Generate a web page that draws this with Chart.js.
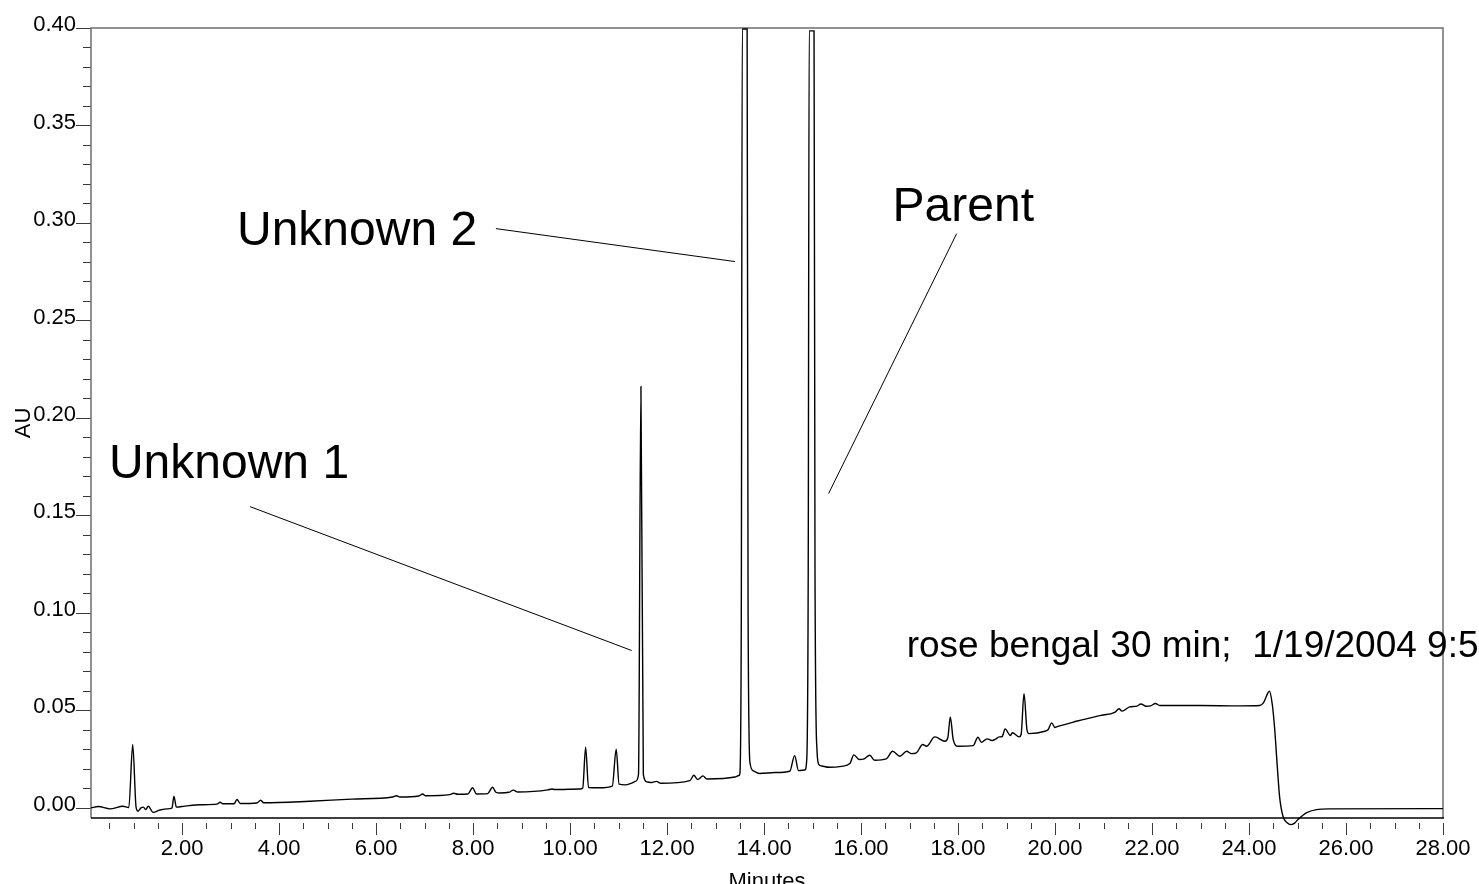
<!DOCTYPE html>
<html>
<head>
<meta charset="utf-8">
<title>rose bengal 30 min</title>
<script src="https://cdn.jsdelivr.net/npm/chart.js@4/dist/chart.umd.min.js"></script>
<style>
  html, body { margin: 0; padding: 0; background: #fff; overflow: hidden; }
  canvas { display: block; }
</style>
</head>
<body>
<canvas id="chrom" width="1479" height="884"></canvas>
<script>
// Retention time (minutes) of each sampled point of the trace
const timeMin = [
  0.12, 0.27, 0.51, 0.78, 0.90, 0.98, 1.05, 1.09, 1.15, 1.20, 1.25, 1.30, 1.40, 1.54, 1.75, 1.79, 1.83, 1.88,
  2.06, 2.37, 2.72, 2.78, 2.84, 3.07, 3.13, 3.20, 3.54, 3.62, 3.68, 4.63, 5.50,
  6.34, 6.42, 6.49, 6.88, 6.96, 7.02, 7.52, 7.60, 7.68, 7.89, 7.99, 8.07, 8.30, 8.40, 8.47, 8.55, 8.74, 8.83, 8.92,
  9.54, 9.62, 9.68, 10.20, 10.26, 10.32, 10.38, 10.61, 10.87, 10.95, 11.01, 11.13, 11.27, 11.35, 11.41, 11.46, 11.51,
  11.59, 11.68, 11.78, 11.87, 12.47, 12.55, 12.63, 12.74, 12.82, 13.40, 13.48,
  13.50, 13.53, 13.55, 13.65, 13.67, 13.71, 13.78, 13.91,
  14.22, 14.53, 14.63, 14.71, 14.84,
  14.88, 14.91, 14.93, 15.03, 15.05, 15.09, 15.13, 15.19,
  15.35, 15.60, 15.77, 15.85, 15.96, 16.05, 16.18, 16.28, 16.52, 16.65, 16.80, 16.94, 17.04, 17.14, 17.27, 17.35,
  17.52, 17.73, 17.79, 17.84, 17.90, 18.00, 18.31, 18.41, 18.48, 18.60, 18.70, 18.76, 18.85, 18.91, 18.97, 19.08,
  19.12, 19.26, 19.30, 19.36, 19.42, 19.46, 19.79, 19.86, 19.93, 20.00, 20.03, 20.44, 20.92, 21.23, 21.32, 21.38,
  21.54, 21.69, 21.77, 21.88, 21.97, 22.07, 22.16, 22.98, 23.81, 24.22, 24.30, 24.42, 24.48, 24.53, 24.58, 24.63,
  24.70, 24.78, 24.87, 24.94, 25.01, 25.18, 25.39, 25.66, 28.00
];

// Detector response (AU) at each retention time above
const absorbanceAU = [
  0.0000, 0.0007, -0.0005, 0.0008, 0.0002, 0.0325, 0.0002, -0.0017, 0.0000, 0.0004, -0.0009, 0.0009, -0.0023, -0.0011, -0.0004, -0.0001, 0.0060, 0.0004,
  0.0009, 0.0016, 0.0019, 0.0029, 0.0021, 0.0021, 0.0043, 0.0022, 0.0025, 0.0039, 0.0026, 0.0034, 0.0045,
  0.0056, 0.0062, 0.0056, 0.0061, 0.0071, 0.0062, 0.0068, 0.0075, 0.0070, 0.0071, 0.0103, 0.0071, 0.0073, 0.0106, 0.0080, 0.0076, 0.0080, 0.0091, 0.0081,
  0.0092, 0.0097, 0.0094, 0.0097, 0.0102, 0.0311, 0.0104, 0.0103, 0.0112, 0.0301, 0.0122, 0.0118, 0.0127, 0.0136, 0.0171, 0.2161, 0.0171,
  0.0133, 0.0130, 0.0136, 0.0126, 0.0140, 0.0167, 0.0145, 0.0164, 0.0148, 0.0158, 0.0166,
  0.0175, 0.1000, 0.3995, 0.3995, 0.1000, 0.0230, 0.0190, 0.0176,
  0.0181, 0.0188, 0.0268, 0.0191, 0.0194,
  0.0250, 0.1200, 0.3985, 0.3985, 0.1200, 0.0300, 0.0222, 0.0215,
  0.0208, 0.0213, 0.0227, 0.0272, 0.0248, 0.0250, 0.0270, 0.0244, 0.0251, 0.0290, 0.0265, 0.0290, 0.0278, 0.0282, 0.0325, 0.0316,
  0.0364, 0.0342, 0.0361, 0.0466, 0.0350, 0.0316, 0.0319, 0.0362, 0.0336, 0.0354, 0.0345, 0.0350, 0.0364, 0.0366, 0.0405, 0.0371,
  0.0385, 0.0364, 0.0376, 0.0586, 0.0402, 0.0381, 0.0393, 0.0402, 0.0436, 0.0412, 0.0415, 0.0444, 0.0473, 0.0490, 0.0508, 0.0496,
  0.0518, 0.0522, 0.0533, 0.0521, 0.0523, 0.0535, 0.0525, 0.0525, 0.0523, 0.0525, 0.0540, 0.0598, 0.0530, 0.0402, 0.0222, 0.0058,
  -0.0043, -0.0075, -0.0086, -0.0078, -0.0060, -0.0026, -0.0009, -0.0005, -0.0004
];

// Labelled axis values
const xTickValues = [2, 4, 6, 8, 10, 12, 14, 16, 18, 20, 22, 24, 26, 28];
const yTickValues = [0.00, 0.05, 0.10, 0.15, 0.20, 0.25, 0.30, 0.35, 0.40];

// Peak call-outs and the run stamp
const calloutTexts = ['Unknown 2', 'Unknown 1', 'Parent'];
const runStamp = 'rose bengal 30 min;  1/19/2004 9:51';

const FONT = "'Liberation Sans', Arial, Helvetica, sans-serif";

// Text anchors and leader lines, in axis units (minutes, AU)
const calloutLayout = [
  { x: 3.13, y: 0.2889, size: 48, from: [8.47, 0.2971], to: [13.40, 0.2802] },
  { x: 0.49, y: 0.1694, size: 48, from: [3.40, 0.1545], to: [11.27, 0.0807] },
  { x: 16.65, y: 0.3012, size: 48, from: [17.97, 0.2945], to: [15.33, 0.1612] }
];
const stampLayout = { x: 16.94, y: 0.0776, size: 37 };

// Frame box plus minor/major tick marks on both axes
const frameTicks = {
  id: 'frameTicks',
  beforeDatasetsDraw(chart) {
    const { ctx, chartArea: a, scales: { x, y } } = chart;
    ctx.save();
    ctx.strokeStyle = '#3a3a3a';
    ctx.lineWidth = 1;
    for (let i = 0; i <= 40; i++) {
      const py = Math.round(y.getPixelForValue(i / 100)) + 0.5;
      const len = i % 5 === 0 ? 15 : 8;
      ctx.beginPath();
      ctx.moveTo(a.left - len, py);
      ctx.lineTo(a.left, py);
      ctx.stroke();
    }
    for (let i = 1; i <= 56; i++) {
      const px = Math.round(x.getPixelForValue(i * 0.5)) + 0.5;
      const len = i % 4 === 0 ? 12 : 6;
      ctx.beginPath();
      ctx.moveTo(px, a.bottom + 5);
      ctx.lineTo(px, a.bottom + 5 + len);
      ctx.stroke();
    }
    ctx.strokeStyle = '#6e6e6e';
    ctx.lineWidth = 1.5;
    ctx.beginPath();
    ctx.moveTo(a.left, a.bottom);
    ctx.lineTo(a.left, a.top);
    ctx.lineTo(a.right, a.top);
    ctx.lineTo(a.right, a.bottom);
    ctx.stroke();
    ctx.strokeStyle = '#000';
    ctx.beginPath();
    ctx.moveTo(a.left, a.bottom);
    ctx.lineTo(a.right + 1, a.bottom);
    ctx.stroke();
    ctx.restore();
  }
};

// Peak names with their leader lines, and the run description
const callouts = {
  id: 'callouts',
  afterDatasetsDraw(chart) {
    const { ctx, scales: { x, y } } = chart;
    ctx.save();
    ctx.fillStyle = '#000';
    ctx.strokeStyle = '#000';
    ctx.lineWidth = 1;
    ctx.textAlign = 'left';
    ctx.textBaseline = 'alphabetic';
    calloutTexts.forEach((text, i) => {
      const c = calloutLayout[i];
      ctx.font = c.size + 'px ' + FONT;
      ctx.fillText(text, x.getPixelForValue(c.x), y.getPixelForValue(c.y));
      ctx.beginPath();
      ctx.moveTo(x.getPixelForValue(c.from[0]), y.getPixelForValue(c.from[1]));
      ctx.lineTo(x.getPixelForValue(c.to[0]), y.getPixelForValue(c.to[1]));
      ctx.stroke();
    });
    ctx.font = stampLayout.size + 'px ' + FONT;
    ctx.fillText(runStamp, x.getPixelForValue(stampLayout.x), y.getPixelForValue(stampLayout.y));
    ctx.restore();
  }
};

new Chart(document.getElementById('chrom'), {
  type: 'line',
  data: {
    datasets: [{
      data: timeMin.map((t, i) => ({ x: t, y: absorbanceAU[i] })),
      borderColor: '#000',
      borderWidth: 1.4,
      pointRadius: 0,
      fill: false,
      cubicInterpolationMode: 'monotone',
      clip: false
    }]
  },
  options: {
    responsive: false,
    animation: false,
    devicePixelRatio: 1,
    layout: { padding: { top: 28, right: 36, left: 0, bottom: 0 } },
    plugins: { legend: { display: false }, tooltip: { enabled: false } },
    scales: {
      x: {
        type: 'linear',
        min: 0.12,
        max: 28,
        grid: { display: false, drawTicks: true, tickLength: 16 },
        border: { display: false },
        ticks: {
          padding: 2,
          color: '#000',
          font: { family: FONT, size: 22 },
          maxRotation: 0,
          autoSkip: false,
          callback: v => Number(v).toFixed(2)
        },
        afterBuildTicks: s => { s.ticks = xTickValues.map(v => ({ value: v })); },
        afterFit: s => { s.height = 66; },
        title: {
          display: true,
          text: 'Minutes',
          color: '#000',
          font: { family: FONT, size: 22, lineHeight: 1 },
          padding: { top: 0, bottom: -9 }
        }
      },
      y: {
        type: 'linear',
        min: -0.0052,
        max: 0.40,
        grid: { display: false, drawTicks: true, tickLength: 15 },
        border: { display: false },
        ticks: {
          padding: 0,
          labelOffset: -3,
          color: '#000',
          font: { family: FONT, size: 22 },
          autoSkip: false,
          callback: v => Number(v).toFixed(2)
        },
        afterBuildTicks: s => { s.ticks = yTickValues.map(v => ({ value: v })); },
        afterFit: s => { s.width = 91; },
        title: {
          display: true,
          text: 'AU',
          color: '#000',
          font: { family: FONT, size: 22, lineHeight: 1 },
          padding: { top: 13, bottom: 0 }
        }
      }
    }
  },
  plugins: [frameTicks, callouts]
});
</script>
</body>
</html>
